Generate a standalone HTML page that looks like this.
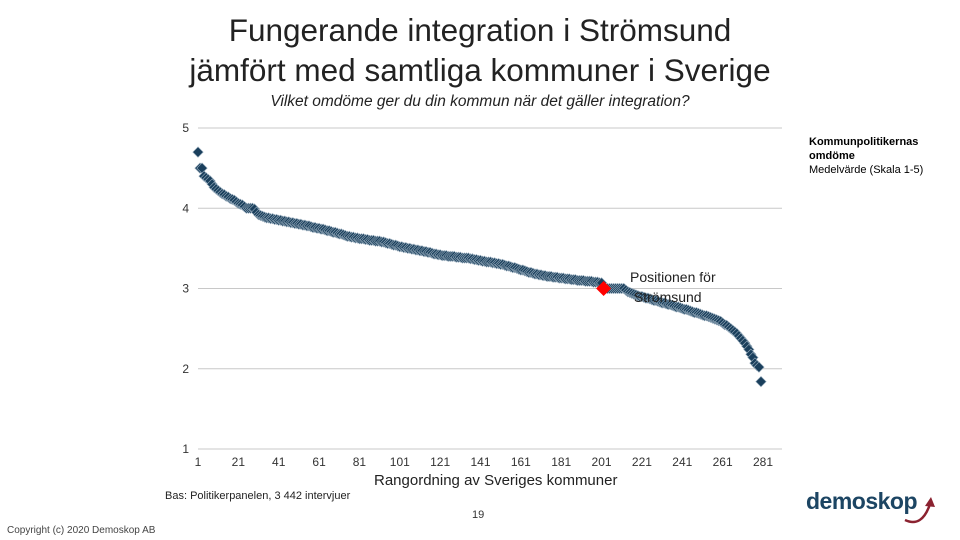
<!DOCTYPE html>
<html><head><meta charset="utf-8"><style>
body{margin:0;width:960px;height:540px;background:#fff;font-family:"Liberation Sans",sans-serif;overflow:hidden;position:relative}
.t{position:absolute;white-space:nowrap}
</style></head><body>
<div class="t" style="left:0;width:960px;top:10px;text-align:center;font-size:31.5px;line-height:40px;color:#222">Fungerande integration i Strömsund<br>jämfört med samtliga kommuner i Sverige</div>
<div class="t" style="left:0;width:960px;top:93px;text-align:center;font-size:15.5px;font-style:italic;color:#222">Vilket omdöme ger du din kommun när det gäller integration?</div>
<svg id="chart" width="960" height="540" style="position:absolute;left:0;top:0"></svg>
<div class="t" style="left:809px;top:135px;font-size:11px;line-height:14px;color:#000"><b>Kommunpolitikernas<br>omdöme</b><br>Medelvärde (Skala 1-5)</div>
<div class="t" style="left:374px;top:472px;font-size:15px;color:#222">Rangordning av Sveriges kommuner</div>
<div class="t" style="left:630px;top:267px;font-size:14px;line-height:20px;color:#222">Positionen för<br>&nbsp;Strömsund</div>
<div class="t" style="left:165px;top:490px;font-size:11px;color:#222">Bas: Politikerpanelen, 3 442 intervjuer</div>
<div class="t" style="left:472px;top:509px;font-size:11px;color:#333">19</div>
<div class="t" style="left:7px;top:525px;font-size:10px;color:#444">Copyright (c) 2020 Demoskop AB</div>
<div class="t" style="left:806px;top:488px;font-size:23px;font-weight:bold;color:#1c4563;letter-spacing:-0.5px">demoskop</div>
<svg width="40" height="40" style="position:absolute;left:900px;top:492px"><path d="M5 28 Q22 36 30 12" stroke="#8b2230" stroke-width="2.5" fill="none"/><path d="M25 14 L31 5 L35 15 Z" fill="#8b2230"/></svg>
<script>
const yTicks=[1,2,3,4,5];
const xTicks=[1,21,41,61,81,101,121,141,161,181,201,221,241,261,281];
const highlightIndex=202;
const values=[4.70,4.50,4.50,4.40,4.38,4.36,4.34,4.30,4.26,4.24,4.22,4.20,4.18,4.17,4.15,4.14,4.12,4.11,4.10,4.08,4.06,4.05,4.04,4.02,4.00,4.00,4.00,4.00,3.99,3.95,3.92,3.91,3.90,3.89,3.88,3.88,3.87,3.87,3.86,3.86,
3.85,3.85,3.84,3.84,3.83,3.83,3.82,3.82,3.81,3.81,3.80,3.80,3.79,3.79,3.78,3.78,3.77,3.76,3.76,3.75,3.75,3.74,3.74,3.73,3.72,3.72,3.71,3.70,3.70,3.69,
3.68,3.68,3.67,3.66,3.65,3.65,3.64,3.64,3.63,3.63,3.62,3.62,3.62,3.61,3.61,3.60,3.60,3.60,3.59,3.59,3.59,3.58,3.58,3.57,3.56,3.56,3.55,3.54,3.54,3.53,
3.52,3.52,3.51,3.51,3.50,3.50,3.49,3.49,3.48,3.48,3.47,3.47,3.46,3.46,3.45,3.45,3.44,3.43,3.43,3.42,3.42,3.41,3.41,3.41,3.40,3.40,3.40,3.40,3.39,3.39,
3.39,3.38,3.38,3.38,3.38,3.37,3.37,3.36,3.36,3.35,3.35,3.34,3.34,3.33,3.33,3.33,3.32,3.32,3.31,3.31,3.30,3.30,3.29,3.28,3.28,3.27,3.26,3.26,3.25,3.24,
3.23,3.23,3.22,3.21,3.20,3.20,3.19,3.18,3.18,3.17,3.17,3.16,3.16,3.15,3.15,3.15,3.14,3.14,3.14,3.13,3.13,3.13,3.12,3.12,3.12,3.11,3.11,3.11,3.10,3.10,
3.10,3.10,3.09,3.09,3.09,3.09,3.08,3.08,3.08,3.07,3.07,3.00,3.00,3.00,3.00,3.00,3.00,3.00,3.00,3.00,3.00,3.00,2.98,2.96,2.95,2.94,2.93,2.92,2.91,2.90,
2.90,2.89,2.88,2.88,2.87,2.86,2.85,2.85,2.84,2.83,2.82,2.82,2.81,2.80,2.80,2.79,2.78,2.77,2.77,2.76,2.75,2.74,2.74,2.73,2.72,2.71,2.70,2.70,2.69,2.68,
2.67,2.66,2.66,2.65,2.64,2.63,2.62,2.61,2.60,2.59,2.57,2.55,2.54,2.52,2.50,2.48,2.46,2.44,2.41,2.38,2.35,2.32,2.28,2.24,2.18,2.14,2.07,2.04,2.02,1.84];
const NS='http://www.w3.org/2000/svg';
const svg=document.getElementById('chart');
const X=i=>198+(i-1)*(565/280);
const Y=v=>449-(v-1)*(321/4);
function mk(t,a){const e=document.createElementNS(NS,t);for(const k in a)e.setAttribute(k,a[k]);svg.appendChild(e);return e;}
yTicks.forEach(v=>{
 const l=mk('line',{x1:198,x2:782,y1:Y(v),y2:Y(v),stroke:'#c8c8c8','stroke-width':1});
 
 
 const t=mk('text',{x:189,y:Y(v)+4,'text-anchor':'end','font-size':12,fill:'#333','font-family':'Liberation Sans'});
 t.textContent=v;
 
 
});
xTicks.forEach(v=>{
 const t=mk('text',{x:X(v),y:466,'text-anchor':'middle','font-size':12,fill:'#333','font-family':'Liberation Sans'});
 t.textContent=v;
 
 
});
values.forEach((v,k)=>{
 const i=k+1; if(i===highlightIndex)return;
 const x=X(i),y=Y(v),s=5.2;
 const p=mk('polygon',{points:`${x},${y-s} ${x+s},${y} ${x},${y+s} ${x-s},${y}`,fill:'#1a3f5c',stroke:'#9aaebe','stroke-width':0.6});
 
 
});
{const x=X(highlightIndex),y=Y(values[highlightIndex-1]),s=7.5;
 const p=mk('polygon',{points:`${x},${y-s} ${x+s},${y} ${x},${y+s} ${x-s},${y}`,fill:'#ff0000'});
 
 }
</script>
</body></html>
